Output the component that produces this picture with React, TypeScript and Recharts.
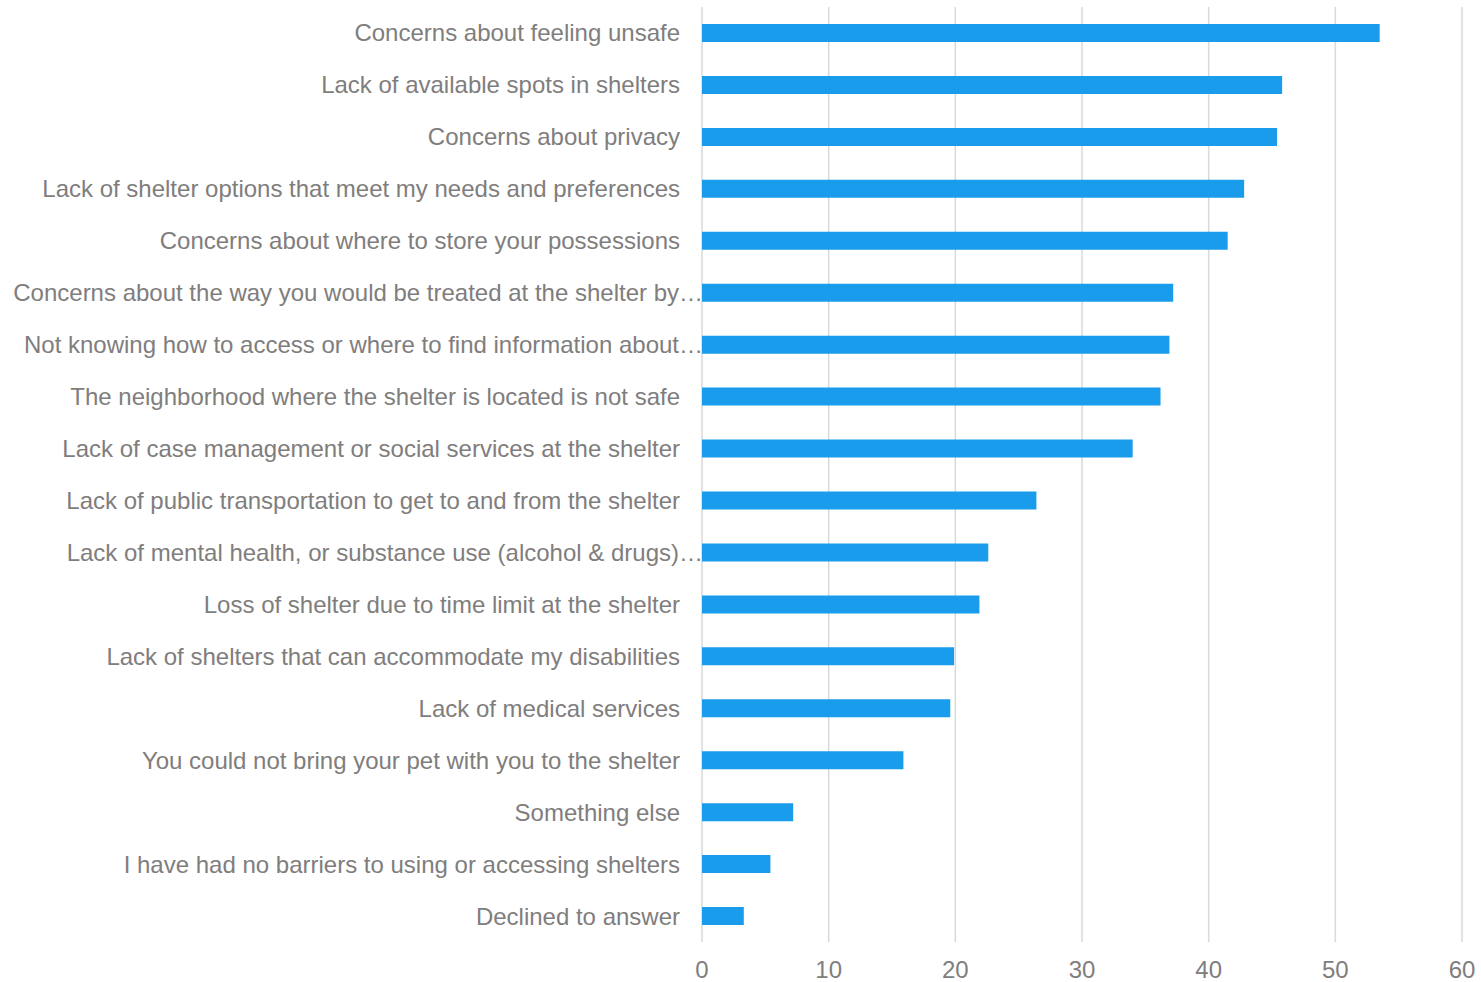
import React from "react";
import {
  BarChart,
  Bar,
  XAxis,
  YAxis,
  CartesianGrid,
} from "recharts";

const categories = [
  "Concerns about feeling unsafe",
  "Lack of available spots in shelters",
  "Concerns about privacy",
  "Lack of shelter options that meet my needs and preferences",
  "Concerns about where to store your possessions",
  "Concerns about the way you would be treated at the shelter by…",
  "Not knowing how to access or where to find information about…",
  "The neighborhood where the shelter is located is not safe",
  "Lack of case management or social services at the shelter",
  "Lack of public transportation to get to and from the shelter",
  "Lack of mental health, or substance use (alcohol & drugs)…",
  "Loss of shelter due to time limit at the shelter",
  "Lack of shelters that can accommodate my disabilities",
  "Lack of medical services",
  "You could not bring your pet with you to the shelter",
  "Something else",
  "I have had no barriers to using or accessing shelters",
  "Declined to answer",
];

const percents = [
  53.5, 45.8, 45.4, 42.8, 41.5, 37.2, 36.9, 36.2, 34.0, 26.4, 22.6, 21.9, 19.9,
  19.6, 15.9, 7.2, 5.4, 3.3,
];

const xTicks = [0, 10, 20, 30, 40, 50, 60];

const data = categories.map((name, i) => ({ name, value: percents[i] }));

const TEXT = "#807d7d";
const FONT = "Liberation Sans, Arial, sans-serif";

function CategoryTick(props: any) {
  const { x, y, payload } = props;
  const label: string = payload.value;
  // truncated labels run their ellipsis right up to the axis
  const shift = label.endsWith("…") ? 23 : 0;
  return (
    <text
      x={x + shift}
      y={y}
      dy="0.355em"
      textAnchor="end"
      fill={TEXT}
      fontSize={24}
      fontFamily={FONT}
    >
      {label}
    </text>
  );
}

export default function App() {
  return (
    <div style={{ position: "absolute", left: 0, top: 0, background: "#fff" }}>
      <BarChart
        width={1481}
        height={982}
        data={data}
        layout="vertical"
        margin={{ top: 7, right: 19, left: 0, bottom: 0 }}
      >
        <CartesianGrid horizontal={false} stroke="#d9d9d9" strokeWidth={1.5} />
        <XAxis
          type="number"
          domain={[0, 60]}
          ticks={xTicks}
          axisLine={false}
          tickLine={false}
          tickSize={0}
          tickMargin={19}
          height={40}
          tick={{ fontSize: 24, fill: TEXT, fontFamily: FONT }}
        />
        <YAxis
          type="category"
          dataKey="name"
          width={702}
          axisLine={false}
          tickLine={false}
          tickSize={0}
          tickMargin={22}
          interval={0}
          tick={<CategoryTick />}
        />
        <Bar
          dataKey="value"
          fill="#189ceb"
          barSize={18}
          isAnimationActive={false}
        />
      </BarChart>
    </div>
  );
}
